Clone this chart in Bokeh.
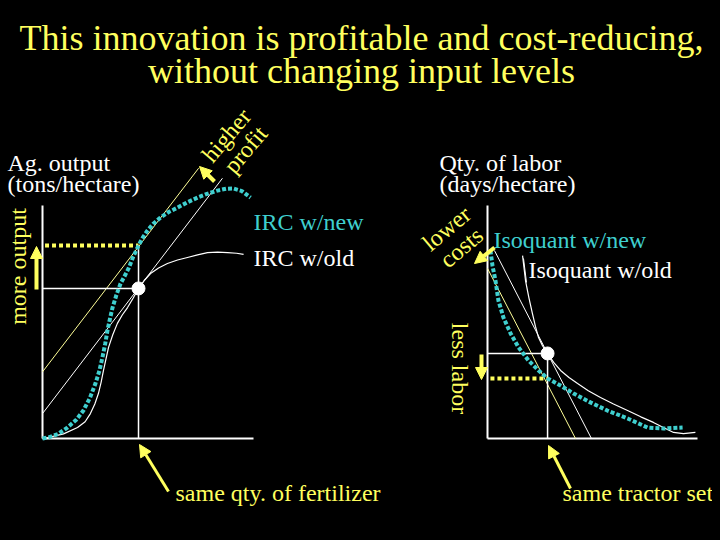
import math
from bokeh.plotting import figure
from bokeh.models import Range1d, Label, Arrow, NormalHead, GlobalInlineStyleSheet
from bokeh.embed import file_html
from bokeh.resources import INLINE

# ---------------- data (drawing units: each panel's axes run 0..10) ----------------
# Left panel: fertilizer (x) -> agricultural output (y), input response curves
irc_old_x = [0, 0.24, 1.00, 1.66, 2.02, 2.27, 2.48, 2.65, 2.78, 2.89, 3.01, 3.13, 3.33, 3.55,
             3.78, 4.03, 4.30, 4.55, 4.82, 5.12, 5.50, 5.92, 6.40, 6.87, 7.35, 7.82, 8.30, 8.77, 9.20, 9.53]
irc_old_y = [0, 0.04, 0.20, 0.47, 0.72, 1.07, 1.48, 1.93, 2.42, 2.92, 3.42, 3.91, 4.45, 4.94,
             5.30, 5.62, 6.03, 6.44, 6.78, 7.08, 7.32, 7.51, 7.66, 7.77, 7.88, 7.98, 8.00, 7.98, 7.95, 7.90]
irc_new_x = [0, 0.30, 0.75, 1.18, 1.60, 1.94, 2.25, 2.51, 2.70, 2.84, 2.97, 3.08, 3.20, 3.32,
             3.50, 3.70, 3.88, 4.08, 4.30, 4.55, 4.75, 4.98, 5.25, 5.59, 5.98, 6.40, 6.85,
             7.35, 7.80, 8.29, 8.70, 9.05, 9.45, 9.86]
irc_new_y = [0, 0.05, 0.20, 0.47, 0.80, 1.20, 1.75, 2.36, 2.92, 3.48, 4.06, 4.64, 5.15, 5.62,
             6.15, 6.65, 6.95, 7.30, 7.80, 8.28, 8.62, 8.93, 9.22, 9.48, 9.72, 9.91, 10.13,
             10.34, 10.50, 10.64, 10.72, 10.73, 10.62, 10.34]
# iso-profit lines in the left panel
profit_old_x = [0.0, 8.53]
profit_old_y = [1.07, 11.17]
profit_new_x = [0.0, 7.40]
profit_new_y = [2.86, 11.60]
fert_level = 4.55
output_old = 6.44
output_new = 8.28

# Right panel: tractor set (x) -> labor (y), isoquants
iso_old_x = [1.67, 1.81, 1.97, 2.14, 2.28, 2.43, 2.62, 2.86, 3.15, 3.48, 3.88, 4.29, 4.80,
             5.38, 6.00, 6.67, 7.30, 7.90, 8.40, 8.86, 9.33, 9.90]
iso_old_y = [7.85, 6.78, 6.05, 5.36, 4.82, 4.33, 3.98, 3.65, 3.27, 2.92, 2.62, 2.36, 2.05,
             1.76, 1.48, 1.20, 0.93, 0.69, 0.46, 0.26, 0.21, 0.26]
iso_new_x = [0.14, 0.24, 0.38, 0.52, 0.76, 1.10, 1.48, 1.95, 2.43, 2.86, 3.48, 4.10, 4.90,
             5.71, 6.67, 7.62, 8.38, 9.29]
iso_new_y = [8.07, 7.40, 6.78, 5.92, 5.19, 4.51, 3.91, 3.35, 2.92, 2.58, 2.27, 1.93, 1.55,
             1.20, 0.86, 0.47, 0.43, 0.47]
cost_old_x = [0.33, 4.95]
cost_old_y = [8.07, 0.0]
cost_new_x = [0.0, 4.19]
cost_new_y = [7.30, 0.0]
tractor_level = 2.86
labor_old = 3.65
labor_new = 2.58

title_lines = ["This innovation is profitable and cost-reducing,", "without changing input levels"]

# ---------------- layout helpers (pixel layout of the slide -> drawing units) ----------------
W, H = 712, 532
OFF = 0
LX0, LXS = 42, 21.1      # left panel: origin pixel x, px per unit
RX0, RXS = 487, 21.0     # right panel
Y0, YS = 438, 23.3       # shared: origin pixel y, px per unit


def L(X, Y):
    return (X - LX0) / LXS, (Y0 - Y) / YS


def R(X, Y):
    return (X - RX0) / RXS, (Y0 - Y) / YS


YEL = "#ffff5e"
PALE = "#ffff99"
CYAN = "#3fcfcf"
WHITE = "#ffffff"
BG = "#000000"
FONT = "Liberation Serif"

xl0, _ = L(OFF, 0)
xl1, _ = L(OFF + W, 0)
xr0, _ = R(OFF, 0)
xr1, _ = R(OFF + W, 0)
_, yb = L(0, OFF + H)
_, yt = L(0, OFF)

p = figure(width=W, height=H, output_backend="svg", toolbar_location=None,
           x_range=Range1d(xl0, xl1), y_range=Range1d(yb, yt),
           min_border=0, background_fill_color=BG, border_fill_color=BG,
           outline_line_color=None,
           stylesheets=[GlobalInlineStyleSheet(css="html, body { background: #000000; }")])
p.extra_x_ranges = {"right": Range1d(xr0, xr1)}
p.xaxis.visible = False
p.yaxis.visible = False
p.grid.visible = False

# ---------------- left panel ----------------
p.line([0, 0], [0, 10], line_color=WHITE, line_width=2)
p.line([0, 10], [0, 0], line_color=WHITE, line_width=2)
p.line(profit_new_x, profit_new_y, line_color=PALE, line_width=1)
p.line(profit_old_x, profit_old_y, line_color=WHITE, line_width=1)
p.line([0, fert_level], [output_old, output_old], line_color=WHITE, line_width=1.5)
p.line([fert_level, fert_level], [0, output_new], line_color=WHITE, line_width=1.5)
p.line([0.12, fert_level], [output_new, output_new], line_color=YEL, line_width=4, line_dash="4 3")
p.line(irc_old_x, irc_old_y, line_color=WHITE, line_width=1.2)
p.line(irc_new_x, irc_new_y, line_color=CYAN, line_width=4, line_dash="4 2")
p.scatter([fert_level], [output_old], size=13, marker="circle", fill_color=WHITE, line_color=WHITE)

# ---------------- right panel ----------------
rr = dict(x_range_name="right")
p.line([0, 0], [0, 10], line_color=WHITE, line_width=2, **rr)
p.line([0, 10], [0, 0], line_color=WHITE, line_width=2, **rr)
p.line(cost_new_x, cost_new_y, line_color=PALE, line_width=1, **rr)
p.line(cost_old_x, cost_old_y, line_color=WHITE, line_width=1, **rr)
p.line([0, tractor_level], [labor_old, labor_old], line_color=WHITE, line_width=1.5, **rr)
p.line([tractor_level, tractor_level], [0, labor_old], line_color=WHITE, line_width=1.5, **rr)
p.line([0.14, tractor_level], [labor_new, labor_new], line_color=YEL, line_width=4, line_dash="4 3", **rr)
p.line(iso_old_x, iso_old_y, line_color=WHITE, line_width=1.2, **rr)
p.line(iso_new_x, iso_new_y, line_color=CYAN, line_width=4, line_dash="4 2", **rr)
p.scatter([tractor_level], [labor_old], size=13, marker="circle", fill_color=WHITE, line_color=WHITE, **rr)

# leader line for "Isoquant w/old"
lx_a, ly_a = R(523, 258)
lx_b, ly_b = R(526, 282)
p.line([lx_a, lx_b], [ly_a, ly_b], line_color=WHITE, line_width=1, **rr)


# ---------------- texts ----------------
def label(xy, text, color, size=24, align="left", angle=0.0, rng=None, base=True):
    # base=True: xy is the text baseline position; convert to the em-box middle
    x, y = xy
    if base:
        y += 0.34 * size / YS
    kw = dict(x=x, y=y, text=text, text_color=color, text_font=FONT,
              text_font_size=f"{size}px", text_align=align, text_baseline="middle", angle=angle)
    if rng:
        kw["x_range_name"] = rng
    p.add_layout(Label(**kw))


label(L(361, 50), title_lines[0], YEL, size=36, align="center")
label(L(361, 83), title_lines[1], YEL, size=36, align="center")

label(L(7, 171), "Ag. output", WHITE)
label(L(7, 192), "(tons/hectare)", WHITE)
label(L(253, 230), "IRC w/new", CYAN)
label(L(253, 266), "IRC w/old", WHITE)
label(L(175, 501), "same qty. of fertilizer", YEL)
label(L(17, 266), "more output", YEL, align="center", angle=math.pi / 2, base=False)
label(L(226, 135), "higher", YEL, align="center", angle=0.87, base=False)
label(L(245, 149), "profit", YEL, align="center", angle=0.87, base=False)

label(R(439, 171), "Qty. of labor", WHITE, rng="right")
label(R(439, 192), "(days/hectare)", WHITE, rng="right")
label(R(493, 248), "Isoquant w/new", CYAN, rng="right")
label(R(528, 278), "Isoquant w/old", WHITE, rng="right")
label(R(562, 501), "same tractor set", YEL, rng="right")
label(R(459, 368), "less labor", YEL, align="center", angle=-math.pi / 2, rng="right", base=False)
label(R(446, 228), "lower", YEL, align="center", angle=0.70, rng="right", base=False)
label(R(461, 247), "costs", YEL, align="center", angle=0.70, rng="right", base=False)


# ---------------- arrows ----------------
def arrow(a, b, rng=None, width=4, size=12):
    kw = dict(x_start=a[0], y_start=a[1], x_end=b[0], y_end=b[1],
              line_color=YEL, line_width=width,
              end=NormalHead(size=size, fill_color=YEL, line_color=YEL, line_width=1))
    if rng:
        kw["x_range_name"] = rng
    p.add_layout(Arrow(**kw))


arrow(L(36, 289), L(36, 246))                  # more output
arrow(L(214, 181), L(199, 166))                # higher profit
arrow(L(168, 491), L(139, 444), width=3)       # same qty of fertilizer
arrow(R(481, 354), R(481, 379), rng="right")   # less labor
arrow(R(494, 247), R(474, 263), rng="right")   # lower costs
arrow(R(570, 488), R(548, 445), rng="right", width=3)  # same tractor set

open("out.html", "w").write(file_html(p, INLINE, title="innovation"))
